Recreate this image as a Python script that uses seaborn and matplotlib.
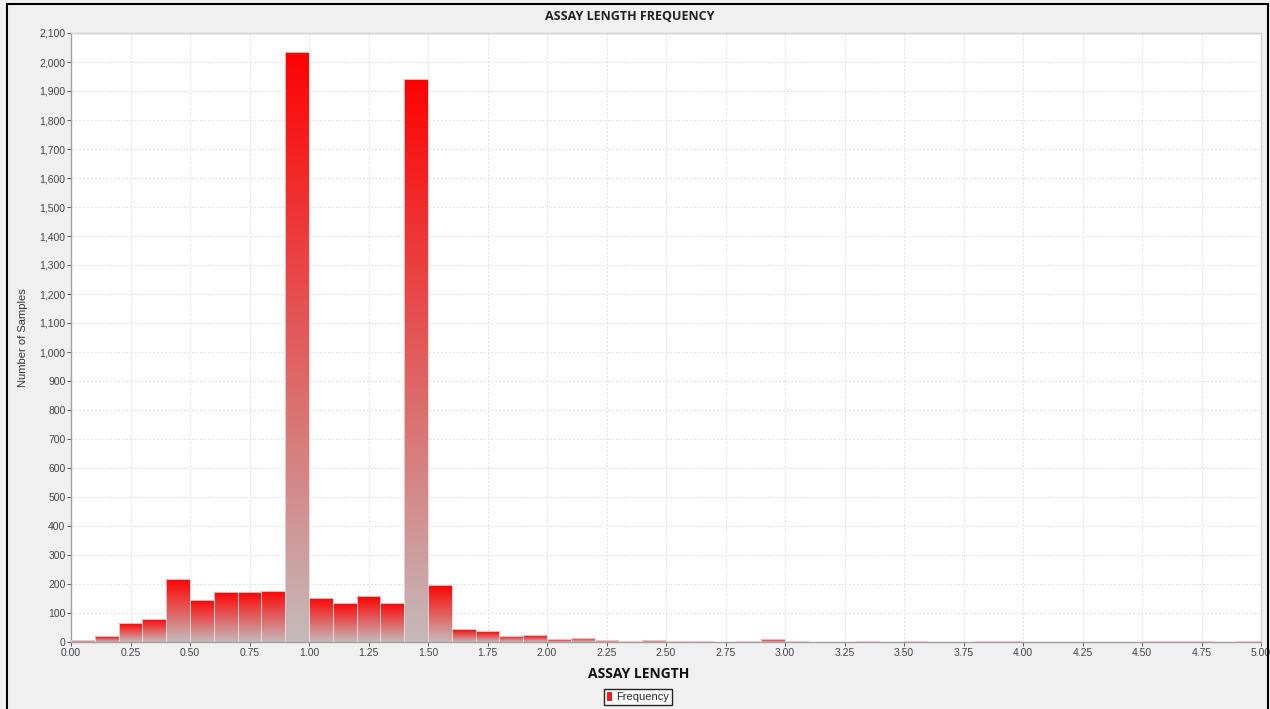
import numpy as np
import pandas as pd
import seaborn as sns
import matplotlib.pyplot as plt
from matplotlib.colors import LinearSegmentedColormap
from matplotlib.patches import Patch, Rectangle
from matplotlib.ticker import FuncFormatter, MultipleLocator

# assay length histogram, bins of 0.1
bin_left = np.round(np.arange(0, 5.0, 0.1), 1)
counts = [7, 19, 65, 81, 217, 146, 173, 173, 176, 2036,
          153, 135, 158, 135, 1943, 196, 44, 37, 21, 23,
          9, 14, 7, 5, 8, 4, 4, 1, 2, 10,
          5, 0, 0, 2, 0, 2, 0, 0, 2, 2,
          0, 0, 0, 0, 0, 2, 2, 2, 0, 2]
bin_edges = [round(0.1 * i, 1) for i in range(51)]

df = pd.DataFrame({'length': bin_left + 0.05, 'count': counts})

sns.set_style("white")
plt.rcParams['font.family'] = ['Liberation Sans', 'DejaVu Sans']

fig = plt.figure(figsize=(12.7, 7.09), dpi=100, facecolor='#f0f0f0')
ax = fig.add_axes([71 / 1270, 1 - 642 / 709, (1261 - 71) / 1270, (642 - 33) / 709])
ax.set_facecolor('white')

sns.histplot(data=df, x='length', weights='count', bins=bin_edges, ax=ax,
             color='red', alpha=1, edgecolor='none', linewidth=0, zorder=2)

# gradient red (top) -> grey (bottom) for every bar
cmap = LinearSegmentedColormap.from_list('bar', ['#c4bcbc', '#ff0000'])
grad = np.linspace(0, 1, 256).reshape(-1, 1)
for p in list(ax.patches):
    h = p.get_height()
    if h <= 0:
        continue
    x0 = p.get_x()
    w = p.get_width()
    im = ax.imshow(grad, cmap=cmap, origin='lower', aspect='auto',
                   interpolation='nearest',
                   extent=[x0 - 0.01, x0 + w + 0.01, -h * 0.01, h * 1.01], zorder=2.5)
    im.set_clip_path(p)
    ax.add_patch(Rectangle((x0, 0), w, h, fill=False, edgecolor='#f3d6d6',
                           linewidth=0.6, zorder=2.6))

ax.set_xlim(0, 5)
ax.set_ylim(0, 2100)
ax.xaxis.set_major_locator(MultipleLocator(0.25))
ax.yaxis.set_major_locator(MultipleLocator(100))
ax.xaxis.set_major_formatter(FuncFormatter(lambda v, p: f"{v:.2f}"))
ax.yaxis.set_major_formatter(FuncFormatter(lambda v, p: f"{int(v):,}"))
ax.tick_params(axis='both', labelsize=7.5, colors='#444444', length=3, width=0.6,
               pad=1, direction='out', left=True, bottom=True)
ax.grid(True, color='#e0e0e0', linestyle=(0, (2, 2)), linewidth=0.7, zorder=0)
ax.set_axisbelow(True)
for side in ['left', 'bottom']:
    ax.spines[side].set_color('#a0a0a0')
    ax.spines[side].set_linewidth(1.0)
for side in ['top', 'right']:
    ax.spines[side].set_color('#d0d0d0')
    ax.spines[side].set_linewidth(1.0)

ax.set_xlabel('')
ax.set_ylabel('Number of Samples', fontsize=8, color='#333333', labelpad=8)

fig.text(630 / 1270, 1 - 17 / 709, 'ASSAY LENGTH FREQUENCY', ha='center', va='center',
         fontsize=9, fontweight='bold', family=['Open Sans', 'DejaVu Sans'], color='#222222')
fig.text(639 / 1270, 1 - 674 / 709, 'ASSAY LENGTH', ha='center', va='center',
         fontsize=10, fontweight='bold', family=['Open Sans', 'DejaVu Sans'], color='#111111')

handle = Patch(facecolor='#ee2020', edgecolor='none')
leg = fig.legend([handle], ['Frequency'], loc='center',
                 bbox_to_anchor=(638 / 1270, 1 - 697 / 709), fontsize=8,
                 frameon=True, fancybox=False, framealpha=1, edgecolor='#222222',
                 handlelength=0.4, handleheight=0.9, handletextpad=0.4,
                 borderpad=0.25, borderaxespad=0)
leg.get_frame().set_linewidth(1.0)

# outer black border of the panel
fig.add_artist(Rectangle((7 / 1270, -0.01), (1268 - 7) / 1270, 1 - 4 / 709 + 0.01,
                         transform=fig.transFigure, fill=False,
                         edgecolor='black', linewidth=1.5))

fig.savefig('out.png', dpi=100, facecolor=fig.get_facecolor())
